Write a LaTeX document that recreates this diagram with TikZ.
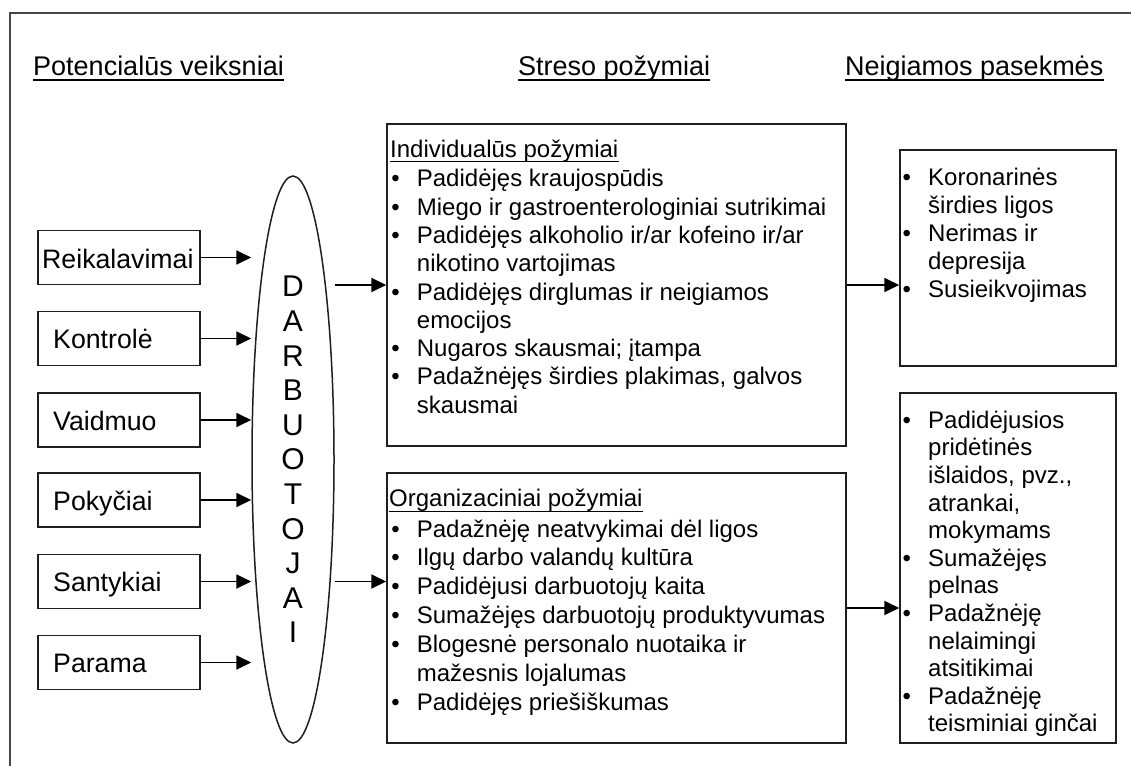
\documentclass[tikz,border=0pt]{standalone}
\usepackage{fontspec}
\setmainfont{Liberation Sans}
\usetikzlibrary{arrows.meta,shapes.geometric}

% bullet followed by a fixed indent
\newcommand\bl{\makebox[25.5pt][l]{\textbullet}}

\begin{document}
\begin{tikzpicture}[x=1pt,y=-1pt,
  frame/.style={draw=black!72, line width=2pt},
  box/.style={draw=black!88, line width=1.5pt, inner sep=0pt},
  lbl/.style={inner sep=0pt, anchor=base west, font=\fontsize{26.7}{30}\selectfont},
  head/.style={inner sep=0pt, anchor=base west, font=\fontsize{27}{30}\selectfont},
  ln/.style={inner sep=0pt, anchor=base west, font=\fontsize{24}{28}\selectfont},
  ul/.style={line width=1.3pt},
  arr/.style={line width=1.8pt, -{Triangle[length=15pt,width=14pt]}},
]
\useasboundingbox (0,0) rectangle (1131,765);
\clip (0,0) rectangle (1131,765);
\fill[white] (0,0) rectangle (1131,765);
\draw[frame] (10,13) rectangle (1160,800);

% column headings
\node[head] (hpot) at (33,76) {Potencialūs veiksniai};
\node[head] (hstr) at (518,76) {Streso požymiai};
\node[head] (hneg) at (845,76) {Neigiamos pasekmės};
\foreach \h in {hpot,hstr,hneg}
  \draw[ul] ([yshift=-4pt]\h.base west) -- ([yshift=-4pt]\h.base east);

% potential factors
\node[box, minimum width=162pt, minimum height=54pt] (reik) at (119,257.5) {};
\node[box, minimum width=162pt, minimum height=54pt] (kont) at (119,338.5) {};
\node[box, minimum width=162pt, minimum height=54pt] (vaid) at (119,420) {};
\node[box, minimum width=162pt, minimum height=54pt] (poky) at (119,500) {};
\node[box, minimum width=162pt, minimum height=54pt] (sant) at (119,581.5) {};
\node[box, minimum width=162pt, minimum height=54pt] (para) at (119,662.5) {};
\node[lbl] (treik) at (42,268.3) {Reikalavimai};
\node[lbl] (tkont) at (53,348.5) {Kontrolė};
\node[lbl] (tvaid) at (53,430) {Vaidmuo};
\node[lbl] (tpoky) at (53,510) {Pokyčiai};
\node[lbl] (tsant) at (53,591.5) {Santykiai};
\node[lbl] (tpara) at (53,672.5) {Parama};

% employees
\node[draw=black!88, line width=1.5pt, ellipse, inner sep=0pt,
      minimum width=82pt, minimum height=567pt, align=center,
      font=\fontsize{30}{34.6}\selectfont] (dar) at (293,459.5)
  {D\\A\\R\\B\\U\\O\\T\\O\\J\\A\\I};

\foreach \b in {reik,kont,vaid,poky,sant,para}
  \draw[arr] (\b.east) -- (\b.east -| dar.west);

% stress symptoms
\node[box, minimum width=459pt, minimum height=322pt] (midup) at (616.5,285) {};
\node[box, minimum width=459pt, minimum height=270pt] (midlo) at (616.5,608) {};

\node[ln] (hind) at (390,157) {Individualūs požymiai};
\draw[ul] ([yshift=-4.5pt]hind.base west) -- ([yshift=-4.5pt]hind.base east);
\node[ln] (i1) at (391.2,186.7) {\bl Padidėjęs kraujospūdis};
\node[ln] (i2) at (391.2,215.0) {\bl Miego ir gastroenterologiniai sutrikimai};
\node[ln] (i3) at (391.2,243.3) {\bl Padidėjęs alkoholio ir/ar kofeino ir/ar};
\node[ln] (i4) at (416.7,271.6) {nikotino vartojimas};
\node[ln] (i5) at (391.2,300.0) {\bl Padidėjęs dirglumas ir neigiamos};
\node[ln] (i6) at (416.7,328.2) {emocijos};
\node[ln] (i7) at (391.2,356.5) {\bl Nugaros skausmai; įtampa};
\node[ln] (i8) at (391.2,384.8) {\bl Padažnėjęs širdies plakimas, galvos};
\node[ln] (i9) at (416.7,413.1) {skausmai};

\node[ln] (horg) at (389,506.7) {Organizaciniai požymiai};
\draw[ul] ([yshift=-4.5pt]horg.base west) -- ([yshift=-4.5pt]horg.base east);
\node[ln] (o1) at (391.2,537.0) {\bl Padažnėję neatvykimai dėl ligos};
\node[ln] (o2) at (391.2,565.9) {\bl Ilgų darbo valandų kultūra};
\node[ln] (o3) at (391.2,594.8) {\bl Padidėjusi darbuotojų kaita};
\node[ln] (o4) at (391.2,623.7) {\bl Sumažėjęs darbuotojų produktyvumas};
\node[ln] (o5) at (391.2,652.6) {\bl Blogesnė personalo nuotaika ir};
\node[ln] (o6) at (416.7,681.5) {mažesnis lojalumas};
\node[ln] (o7) at (391.2,710.4) {\bl Padidėjęs priešiškumas};

\draw[arr] (midup.west -| dar.east) -- (midup.west);
\draw[arr] (sant.east -| dar.east) -- (sant.east -| midlo.west);

% negative consequences
\node[box, minimum width=216pt, minimum height=216pt] (negup) at (1008,258) {};
\node[box, minimum width=216pt, minimum height=350pt] (neglo) at (1008,568) {};

\node[ln] (n1) at (902.5,185.0) {\bl Koronarinės};
\node[ln] (n2) at (928,213.0) {širdies ligos};
\node[ln] (n3) at (902.5,241.0) {\bl Nerimas ir};
\node[ln] (n4) at (928,269.0) {depresija};
\node[ln] (n5) at (902.5,297.0) {\bl Susieikvojimas};

\node[ln] (m1) at (902.5,428.3) {\bl Padidėjusios};
\node[ln] (m2) at (928,455.9) {pridėtinės};
\node[ln] (m3) at (928,483.5) {išlaidos, pvz.,};
\node[ln] (m4) at (928,511.1) {atrankai,};
\node[ln] (m5) at (928,538.7) {mokymams};
\node[ln] (m6) at (902.5,566.3) {\bl Sumažėjęs};
\node[ln] (m7) at (928,593.9) {pelnas};
\node[ln] (m8) at (902.5,621.5) {\bl Padažnėję};
\node[ln] (m9) at (928,649.1) {nelaimingi};
\node[ln] (m10) at (928,676.7) {atsitikimai};
\node[ln] (m11) at (902.5,704.3) {\bl Padažnėję};
\node[ln] (m12) at (928,731.9) {teisminiai ginčai};

\draw[arr] (midup.east) -- (midup.east -| negup.west);
\draw[arr] (midlo.east) -- (midlo.east -| neglo.west);
\end{tikzpicture}
\end{document}
